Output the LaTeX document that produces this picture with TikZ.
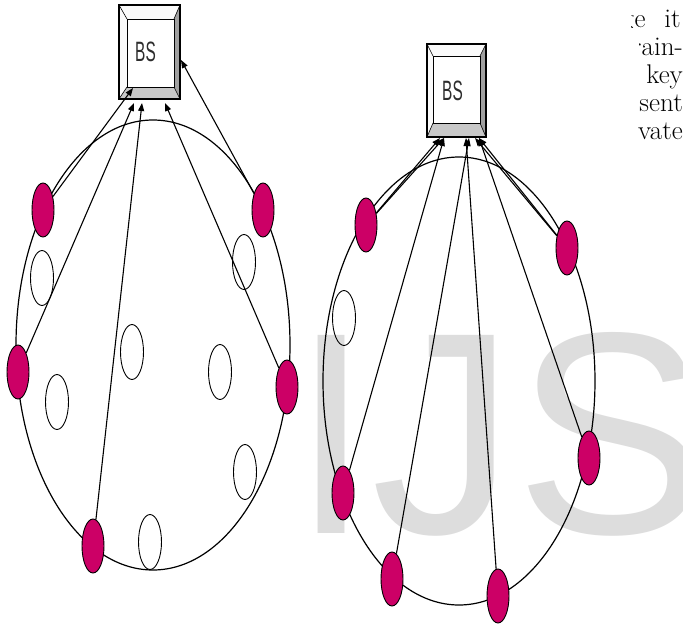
\documentclass[tikz,border=0pt]{standalone}
\usepackage{fontspec}
\usetikzlibrary{arrows.meta,shapes.geometric,fit,backgrounds}
\newfontfamily\wmfont{Liberation Sans}
\definecolor{nodepink}{RGB}{204,0,102}
\definecolor{wmgray}{RGB}{221,221,221}
\definecolor{bevdark}{RGB}{160,160,160}
\definecolor{bevmid}{RGB}{200,200,200}
\definecolor{bevlight}{RGB}{250,250,250}
\definecolor{bsink}{RGB}{45,45,45}

% bevelled base-station box: name, x1, y1, x2, y2, top, bottom, left, right bevel widths
\newcommand\bsbox[9]{%
  \fill[bevlight] (#2,#3) -- (#4,#3) -- (#4-#9,#3+#6) -- (#2+#8,#3+#6) -- cycle;
  \fill[bevlight] (#2,#3) -- (#2+#8,#3+#6) -- (#2+#8,#5-#7) -- (#2,#5) -- cycle;
  \fill[bevdark] (#4,#3) -- (#4,#5) -- (#4-#9,#5-#7) -- (#4-#9,#3+#6) -- cycle;
  \fill[bevmid] (#2,#5) -- (#4,#5) -- (#4-#9,#5-#7) -- (#2+#8,#5-#7) -- cycle;
  \fill[white] (#2+#8,#3+#6) rectangle (#4-#9,#5-#7);
  \draw[line width=0.6pt] (#2,#3) -- (#2+#8,#3+#6) (#4,#3) -- (#4-#9,#3+#6)
        (#2,#5) -- (#2+#8,#5-#7) (#4,#5) -- (#4-#9,#5-#7);
  \draw[line width=1pt] (#2+#8,#3+#6) rectangle (#4-#9,#5-#7);
  \node[fit={(#2,#3) (#4,#5)}, inner sep=0pt, draw, line width=1.6pt] (#1) {};
  \node[bslabel, xshift=-4pt] at (#1.center) {\scalebox{0.55}[1]{BS}};
}

\begin{document}
\begin{tikzpicture}[x=1pt, y=-1pt,
  sensor/.style={ellipse, draw=black, line width=0.9pt, fill=nodepink,
                 minimum width=22pt, minimum height=54pt, inner sep=0pt},
  idle/.style={ellipse, draw=black, line width=0.9pt,
               minimum width=23pt, minimum height=55pt, inner sep=0pt},
  bslabel/.style={inner sep=0pt, text=bsink, font=\wmfont\fontsize{28}{28}\selectfont},
  arr/.style={-{Triangle[length=8pt,width=6pt]}, line width=1.1pt},
  egg/.style={line width=1.2pt},
  coltext/.style={anchor=base east, inner sep=0pt, font=\fontsize{27}{27}\selectfont}]
\useasboundingbox (0,0) rectangle (683,624);
\clip (0,0) rectangle (683,624);

% ---------- left cluster: sensors ----------
\node[sensor] (L1) at (43,210) {};
\node[sensor] (L2) at (263,210) {};
\node[sensor] (L3) at (18,372) {};
\node[sensor] (L4) at (287,387) {};
\node[sensor] (L5) at (93,546) {};
\node[idle] (I1) at (42,278) {};
\node[idle] (I2) at (244,262) {};
\node[idle] (I3) at (132,352) {};
\node[idle] (I4) at (220,372) {};
\node[idle] (I5) at (57,402) {};
\node[idle] (I6) at (245,472) {};
\node[idle] (I7) at (150,542) {};

% ---------- right cluster: sensors ----------
\node[sensor] (R1) at (366,225) {};
\node[sensor] (R2) at (567,248) {};
\node[sensor] (R3) at (343,493) {};
\node[sensor] (R4) at (589,458) {};
\node[sensor] (R5) at (392,579) {};
\node[sensor] (R6) at (498,596) {};
\node[idle] (J1) at (344,318) {};

% ---------- base stations ----------
\bsbox{BSL}{119}{5}{180}{99}{14}{12}{8}{6}
\bsbox{BSR}{427}{44}{486}{137}{12}{14}{6}{6}

% ---------- background: watermark, column text, cluster outlines ----------
\begin{pgfonlayer}{background}
  \node[anchor=base west, inner sep=0pt, text=wmgray,
        font=\wmfont\fontsize{288}{288}\selectfont] (wm) at (291,533) {IJS};
  % neighbouring column, cut at its left edge
  \node[coltext] (c1) at (681,27) {e\hspace{19pt}it};
  \node[coltext] (c2) at (683,55) {ain-};
  \node[coltext] (c3) at (683,83) {key};
  \node[coltext] (c4) at (683,111) {sent};
  \node[coltext] (c5) at (683,139) {vate};
  \begin{scope}
    \clip ([xshift=-2.5pt]c1.south west) rectangle ([yshift=8pt]c1.north west);
    \node[coltext] (g1) at (c1.base west) {g};
  \end{scope}
  \begin{scope}
    \clip ([xshift=-2pt]c2.south west) rectangle (c2.north west);
    \node[coltext] (r2) at (c2.base west) {r};
  \end{scope}
  \draw[egg] (153,345) ellipse [x radius=137, y radius=225];
  \draw[egg] (459,381) ellipse [x radius=136, y radius=224];
\end{pgfonlayer}

% ---------- links to the base stations ----------
\coordinate (tL1) at (133,88);
\coordinate (tL2) at (134,103);
\coordinate (tL3) at (142,103);
\coordinate (tL4) at (165,103);
\coordinate (tL5) at (181,60);
\draw[arr] (L1) -- (tL1);
\draw[arr] (L3) -- (tL2);
\draw[arr] (L5) -- (tL3);
\draw[arr] (L4) -- (tL4);
\draw[arr] (L2) -- (tL5);

\coordinate (tR1) at (440,138);
\coordinate (tR1b) at (444,138);
\coordinate (tR2) at (466,138);
\coordinate (tR2b) at (469,138);
\coordinate (tR3) at (475,138);
\coordinate (tR3b) at (479,138);
\draw[arr] (R1) -- (tR1);
\draw[arr] (R1) -- (tR1b);
\draw[arr] (R3) -- (tR1b);
\draw[arr] (R5) -- (tR2b);
\draw[arr] (R6) -- (tR2);
\draw[arr] (R4) -- (tR3b);
\draw[arr] (R2) -- (tR3);
\draw[arr] (R2) -- (tR3b);
\end{tikzpicture}
\end{document}
